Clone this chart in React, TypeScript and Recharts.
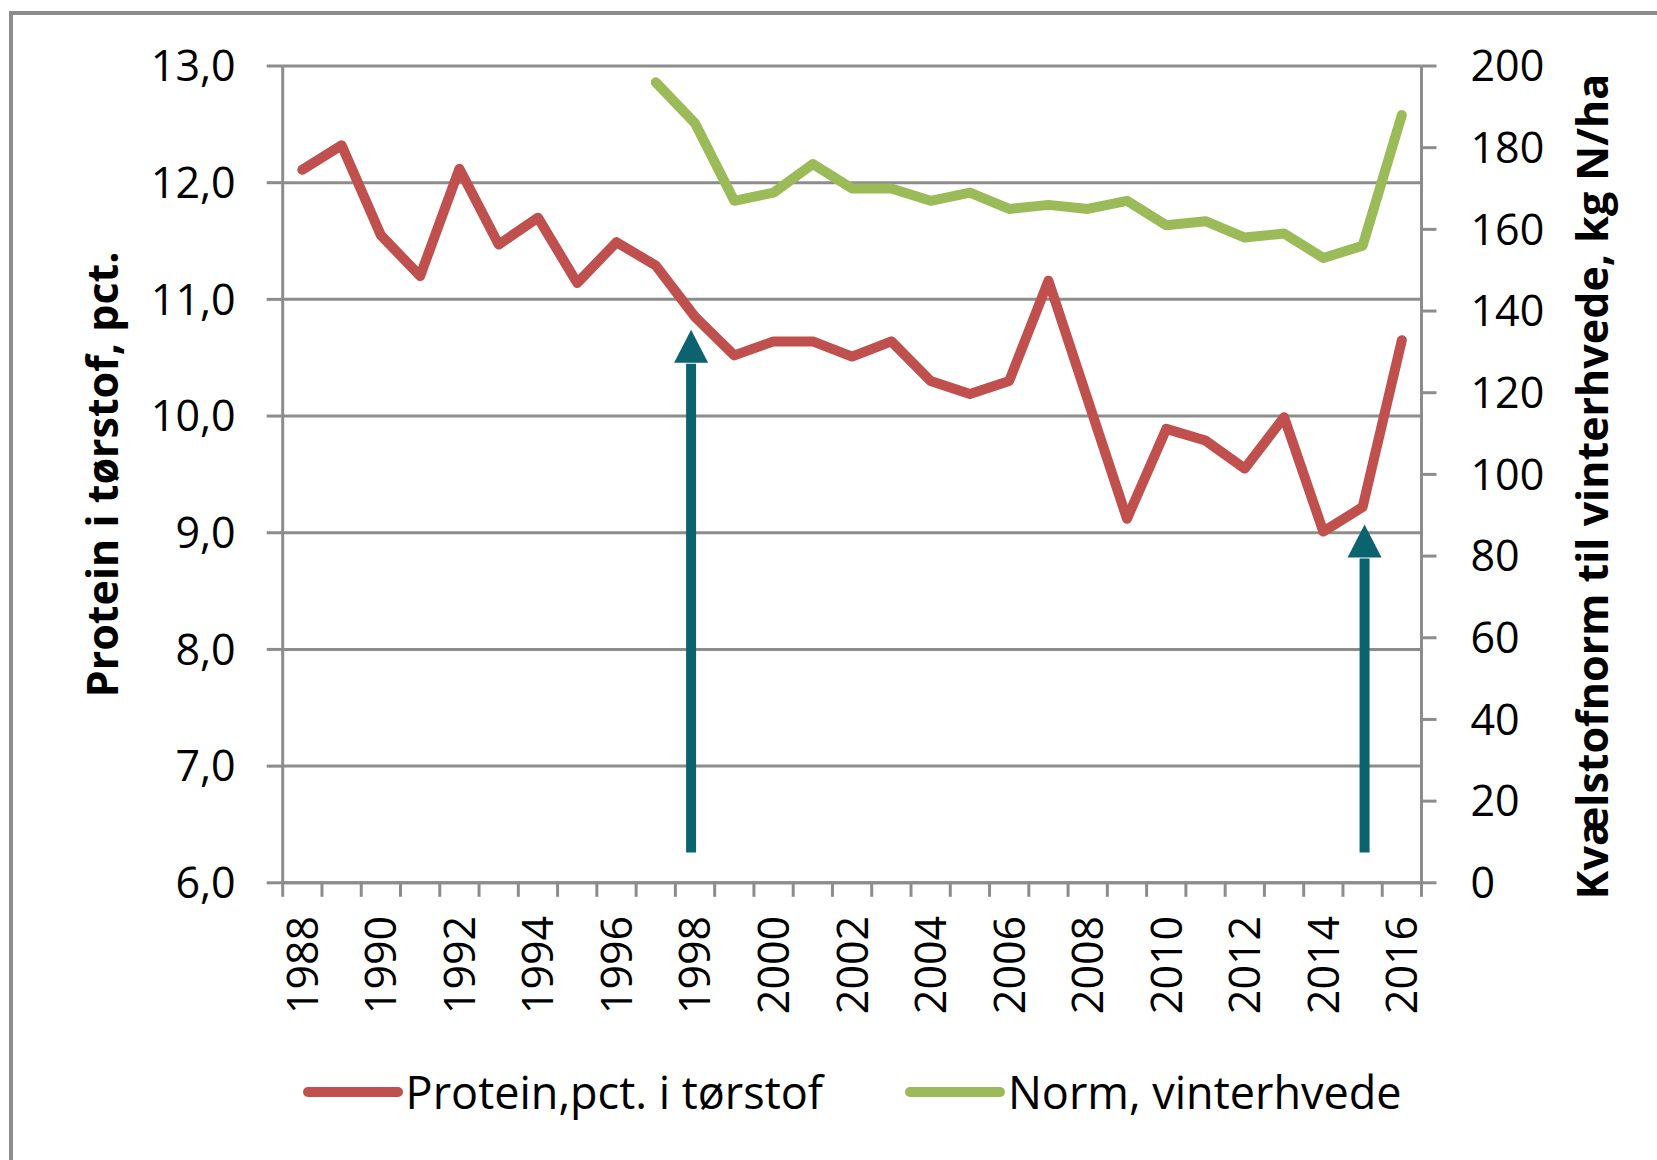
import React from 'react';
import { LineChart, Line, XAxis, YAxis, CartesianGrid, Legend, ReferenceLine } from 'recharts';

// ---------- data ----------
const years = [
  1988, 1989, 1990, 1991, 1992, 1993, 1994, 1995, 1996, 1997, 1998, 1999, 2000, 2001, 2002,
  2003, 2004, 2005, 2006, 2007, 2008, 2009, 2010, 2011, 2012, 2013, 2014, 2015, 2016,
];
const protein = [
  12.11, 12.32, 11.55, 11.2, 12.12, 11.47, 11.7, 11.14, 11.49, 11.29, 10.85, 10.52, 10.64, 10.64, 10.51,
  10.64, 10.3, 10.19, 10.3, 11.16, 10.14, 9.12, 9.89, 9.79, 9.55, 9.99, 9.01, 9.22, 10.65,
];
const norm: (number | null)[] = [
  null, null, null, null, null, null, null, null, null, 196, 186, 167, 169, 176, 170,
  170, 167, 169, 165, 166, 165, 167, 161, 162, 158, 159, 153, 156, 188,
];
const yearLabels = [1988, 1990, 1992, 1994, 1996, 1998, 2000, 2002, 2004, 2006, 2008, 2010, 2012, 2014, 2016];
const proteinTicks = [6, 7, 8, 9, 10, 11, 12, 13];
const normTicks = [0, 20, 40, 60, 80, 100, 120, 140, 160, 180, 200];
const arrowYears = [1997.9, 2015.05];
const arrowBase = [6.26, 6.26];
const arrowTips = [10.74, 9.07];
const seriesNames = ['Protein,pct. i tørstof', 'Norm, vinterhvede'];
const axisTitles = ['Protein i tørstof, pct.', 'Kvælstofnorm til vinterhvede, kg N/ha'];

// ---------- styles ----------
const RED = '#C0504D';
const GREEN = '#9BBB59';
const TEAL = '#0B6370';
const GRID = '#8C8C8C';
const FONT = "'Open Sans', sans-serif";
const FS = 43;
const LEGEND_FS = 45;
const X_TICK_SIZE = 14;
const X_TICK_MARGIN = 19;

const data = years.map((year, i) => ({ year, protein: protein[i], norm: norm[i] }));
const boundaries = [...years.map((y) => y - 0.5), years[years.length - 1] + 0.5];
const xTicks = [...boundaries, ...yearLabels].sort((a, b) => a - b);

const XTick = (props: any) => {
  const { x, y, payload } = props;
  const v = payload.value;
  const axisY = y - X_TICK_SIZE - X_TICK_MARGIN;
  if (!Number.isInteger(v)) {
    return <line x1={x} x2={x} y1={axisY} y2={axisY + X_TICK_SIZE} stroke={GRID} strokeWidth={3} />;
  }
  return (
    <text
      x={x}
      y={y}
      dy="0.36em"
      transform={`rotate(-90 ${x} ${y})`}
      textAnchor="end"
      fontSize={FS}
      fill="#000"
      fontFamily={FONT}
    >
      {v}
    </text>
  );
};

const Arrow = (props: any) => {
  const { x1, y1, x2, y2 } = props;
  if ([x1, y1, x2, y2].some((v) => typeof v !== 'number' || isNaN(v))) return <g />;
  const headLen = 33;
  const headW = 34;
  const baseY = y2 + headLen;
  return (
    <g>
      <line x1={x1} y1={y1} x2={x2} y2={baseY + 1} stroke={TEAL} strokeWidth={10} />
      <polygon points={`${x2},${y2} ${x2 - headW / 2},${baseY} ${x2 + headW / 2},${baseY}`} fill={TEAL} />
    </g>
  );
};

const leftTitle = (p: any) => {
  const vb = p.viewBox || {};
  const cx = vb.x + 19.3;
  const cy = vb.y + vb.height / 2;
  return (
    <text
      x={cx}
      y={cy}
      transform={`rotate(-90 ${cx} ${cy})`}
      textAnchor="middle"
      dominantBaseline="central"
      fontSize={FS}
      fontWeight="bold"
      fill="#000"
      fontFamily={FONT}
    >
      {axisTitles[0]}
    </text>
  );
};

const rightTitle = (p: any) => {
  const vb = p.viewBox || {};
  const cx = vb.x + 170.5;
  const cy = vb.y + vb.height / 2 + 12;
  return (
    <text
      x={cx}
      y={cy}
      transform={`rotate(-90 ${cx} ${cy})`}
      textAnchor="middle"
      dominantBaseline="central"
      fontSize={FS}
      fontWeight="bold"
      fill="#000"
      fontFamily={FONT}
    >
      {axisTitles[1]}
    </text>
  );
};

const renderLegend = () => (
  <div
    style={{
      display: 'flex',
      justifyContent: 'center',
      alignItems: 'center',
      height: 60,
      fontSize: LEGEND_FS,
      color: '#000',
      fontFamily: FONT,
    }}
  >
    {[RED, GREEN].map((c, i) => (
      <div key={i} style={{ display: 'flex', alignItems: 'center', marginLeft: i === 0 ? 0 : 82 }}>
        <svg width={100} height={20}>
          <line x1={5} y1={10} x2={95} y2={10} stroke={c} strokeWidth={10} strokeLinecap="round" />
        </svg>
        <span style={{ marginLeft: 3, whiteSpace: 'nowrap', lineHeight: '60px' }}>{seriesNames[i]}</span>
      </div>
    ))}
  </div>
);

export default function App() {
  return (
    <div
      style={{
        position: 'absolute',
        left: 0,
        top: 0,
        width: 1657,
        height: 1160,
        background: '#fff',
        overflow: 'hidden',
        fontFamily: FONT,
      }}
    >
      <div
        style={{
          position: 'absolute',
          left: 9,
          top: 11,
          width: 1700,
          height: 1200,
          borderLeft: `4px solid ${GRID}`,
          borderTop: `4px solid ${GRID}`,
        }}
      />
      <div style={{ position: 'absolute', left: 0, top: 0 }}>
        <LineChart width={1657} height={1160} data={data} margin={{ top: 66, right: 35.5, bottom: 38, left: 82.7 }}>
          <CartesianGrid xAxisId="yr" yAxisId="left" vertical={false} stroke={GRID} strokeWidth={3} />
          <XAxis
            xAxisId="yr"
            dataKey="year"
            type="number"
            domain={[years[0] - 0.5, years[years.length - 1] + 0.5]}
            ticks={xTicks}
            interval={0}
            height={179.2}
            tickSize={X_TICK_SIZE}
            tickMargin={X_TICK_MARGIN}
            tickLine={false}
            axisLine={{ stroke: GRID, strokeWidth: 3 }}
            tick={<XTick />}
            allowDataOverflow
          />
          <YAxis
            yAxisId="left"
            domain={[6, 13]}
            ticks={proteinTicks}
            interval={0}
            tickFormatter={(v: number) => v.toFixed(1).replace('.', ',')}
            width={200}
            tickSize={16}
            tickMargin={31}
            axisLine={{ stroke: GRID, strokeWidth: 3 }}
            tickLine={{ stroke: GRID, strokeWidth: 3 }}
            tick={{ fontSize: FS, fill: '#000', fontFamily: FONT }}
            label={leftTitle}
            allowDataOverflow
          />
          <YAxis
            yAxisId="right"
            orientation="right"
            domain={[0, 200]}
            ticks={normTicks}
            interval={0}
            width={200}
            tickSize={15}
            tickMargin={34}
            axisLine={{ stroke: GRID, strokeWidth: 3 }}
            tickLine={{ stroke: GRID, strokeWidth: 3 }}
            tick={{ fontSize: FS, fill: '#000', fontFamily: FONT }}
            label={rightTitle}
            allowDataOverflow
          />
          <Legend
            verticalAlign="bottom"
            content={renderLegend}
            wrapperStyle={{ left: 282.7, width: 1138.8, height: 60 }}
          />
          <Line
            xAxisId="yr"
            yAxisId="left"
            dataKey="protein"
            name={seriesNames[0]}
            stroke={RED}
            strokeWidth={10}
            strokeLinejoin="round"
            strokeLinecap="round"
            dot={false}
            activeDot={false}
            isAnimationActive={false}
          />
          <Line
            xAxisId="yr"
            yAxisId="right"
            dataKey="norm"
            name={seriesNames[1]}
            stroke={GREEN}
            strokeWidth={10}
            strokeLinejoin="round"
            strokeLinecap="round"
            dot={false}
            activeDot={false}
            isAnimationActive={false}
          />
          {arrowYears.map((yr, i) => (
            <ReferenceLine
              key={i}
              xAxisId="yr"
              yAxisId="left"
              segment={[
                { x: yr, y: arrowBase[i] },
                { x: yr, y: arrowTips[i] },
              ]}
              shape={Arrow}
              ifOverflow="visible"
            />
          ))}
        </LineChart>
      </div>
    </div>
  );
}
